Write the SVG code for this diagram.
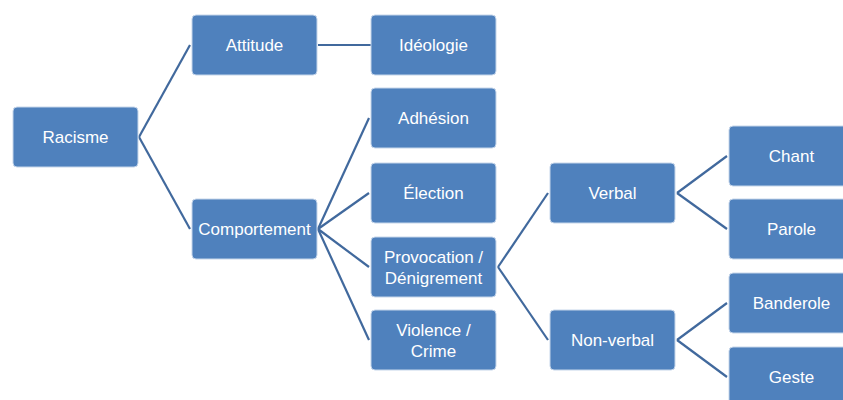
<svg xmlns="http://www.w3.org/2000/svg" width="843" height="400" viewBox="0 0 843 400">
<style>
.n rect{fill:#4F81BD;stroke:#C6D6EA;stroke-width:1}
.n text{fill:#fff;font-family:"Liberation Sans","Noto Sans",Arial,sans-serif;font-size:17px;text-anchor:middle}
.c line{stroke:#41699D;stroke-width:2.2;fill:none}
</style>
<rect width="843" height="400" fill="#fff"/>
<g id="connectors" class="c">
<line x1="139" y1="137" x2="190" y2="45"/>
<line x1="139" y1="137" x2="190" y2="229"/>
<line x1="318" y1="45" x2="371" y2="45"/>
<line x1="318" y1="229" x2="369" y2="118"/>
<line x1="318" y1="229" x2="369" y2="193"/>
<line x1="318" y1="229" x2="369" y2="267"/>
<line x1="318" y1="229" x2="369" y2="340"/>
<line x1="498" y1="267" x2="548" y2="193"/>
<line x1="498" y1="267" x2="548" y2="340"/>
<line x1="677" y1="193" x2="727" y2="156"/>
<line x1="677" y1="193" x2="727" y2="229"/>
<line x1="677" y1="340" x2="727" y2="303"/>
<line x1="677" y1="340" x2="727" y2="377"/>
</g>
<g id="racisme" class="n"><rect x="13" y="107" width="125" height="60" rx="4"/><text x="75.5" y="143">Racisme</text></g>
<g id="attitude" class="n"><rect x="192" y="15" width="125" height="60" rx="4"/><text x="254.5" y="51">Attitude</text></g>
<g id="comportement" class="n"><rect x="192" y="199" width="125" height="60" rx="4"/><text x="254.5" y="235">Comportement</text></g>
<g id="ideologie" class="n"><rect x="371" y="15" width="125" height="60" rx="4"/><text x="433.5" y="51">Idéologie</text></g>
<g id="adhesion" class="n"><rect x="371" y="88" width="125" height="60" rx="4"/><text x="433.5" y="124">Adhésion</text></g>
<g id="election" class="n"><rect x="371" y="163" width="125" height="60" rx="4"/><text x="433.5" y="199">Élection</text></g>
<g id="provocation" class="n"><rect x="371" y="237" width="125" height="60" rx="4"/><text x="433.5" y="263">Provocation /</text><text x="433.5" y="284">Dénigrement</text></g>
<g id="violence" class="n"><rect x="371" y="310" width="125" height="60" rx="4"/><text x="433.5" y="336">Violence /</text><text x="433.5" y="357">Crime</text></g>
<g id="verbal" class="n"><rect x="550" y="163" width="125" height="60" rx="4"/><text x="612.5" y="199">Verbal</text></g>
<g id="nonverbal" class="n"><rect x="550" y="310" width="125" height="60" rx="4"/><text x="612.5" y="346">Non-verbal</text></g>
<g id="chant" class="n"><rect x="729" y="126" width="125" height="60" rx="4"/><text x="791.5" y="162">Chant</text></g>
<g id="parole" class="n"><rect x="729" y="199" width="125" height="60" rx="4"/><text x="791.5" y="235">Parole</text></g>
<g id="banderole" class="n"><rect x="729" y="273" width="125" height="60" rx="4"/><text x="791.5" y="309">Banderole</text></g>
<g id="geste" class="n"><rect x="729" y="347" width="125" height="60" rx="4"/><text x="791.5" y="383">Geste</text></g>
</svg>
